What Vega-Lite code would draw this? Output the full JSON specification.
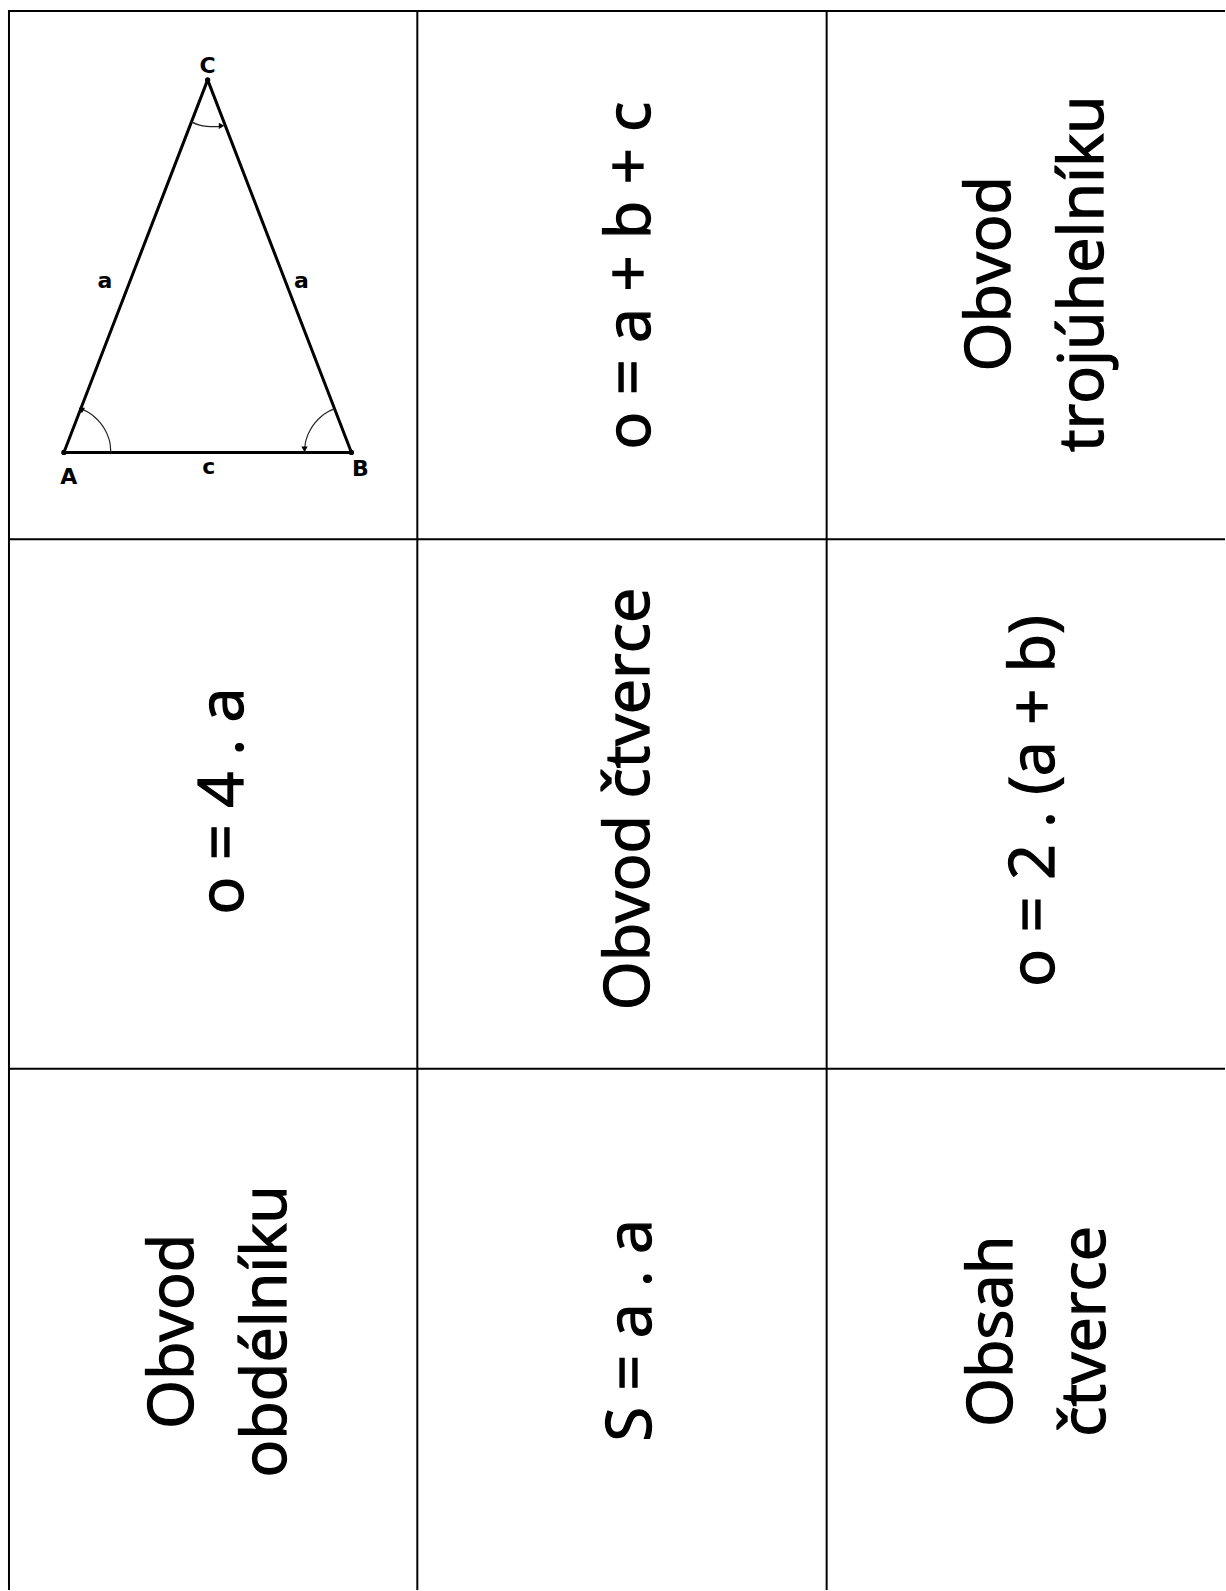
{
  "$schema": "https://vega.github.io/schema/vega-lite/v6.json",
  "width": 1226,
  "height": 1591,
  "autosize": {"type": "fit", "contains": "padding"},
  "padding": 0,
  "background": "white",
  "config": {"view": {"stroke": null}, "axis": {"disable": true}},
  "datasets": {
    "grid": [
      {"x": 9, "y": 11, "x2": 9, "y2": 1591},
      {"x": 418, "y": 11, "x2": 418, "y2": 1591},
      {"x": 828, "y": 11, "x2": 828, "y2": 1591},
      {"x": 9, "y": 11, "x2": 1226, "y2": 11},
      {"x": 9, "y": 540, "x2": 1226, "y2": 540},
      {"x": 9, "y": 1070, "x2": 1226, "y2": 1070}
    ],
    "sides": [
      {"x": 64, "y": 453, "x2": 352, "y2": 453},
      {"x": 64, "y": 453, "x2": 208, "y2": 80},
      {"x": 352, "y": 453, "x2": 208, "y2": 80}
    ],
    "arcs": [
      {"arc": "A", "i": 0, "x": 111.0, "y": 453.0},
      {"arc": "A", "i": 1, "x": 110.3, "y": 444.8},
      {"arc": "A", "i": 2, "x": 108.2, "y": 436.9},
      {"arc": "A", "i": 3, "x": 104.7, "y": 429.5},
      {"arc": "A", "i": 4, "x": 100.0, "y": 422.8},
      {"arc": "A", "i": 5, "x": 94.2, "y": 417.0},
      {"arc": "A", "i": 6, "x": 87.5, "y": 412.3},
      {"arc": "A", "i": 7, "x": 80.8, "y": 409.1},
      {"arc": "B", "i": 0, "x": 335.2, "y": 409.1},
      {"arc": "B", "i": 1, "x": 328.5, "y": 412.3},
      {"arc": "B", "i": 2, "x": 321.8, "y": 417.0},
      {"arc": "B", "i": 3, "x": 316.0, "y": 422.8},
      {"arc": "B", "i": 4, "x": 311.3, "y": 429.5},
      {"arc": "B", "i": 5, "x": 307.8, "y": 436.9},
      {"arc": "B", "i": 6, "x": 305.7, "y": 444.8},
      {"arc": "B", "i": 7, "x": 305.0, "y": 453.0},
      {"arc": "C", "i": 0, "x": 191.5, "y": 122.0},
      {"arc": "C", "i": 1, "x": 199.0, "y": 125.0},
      {"arc": "C", "i": 2, "x": 207.0, "y": 126.5},
      {"arc": "C", "i": 3, "x": 215.0, "y": 126.8},
      {"arc": "C", "i": 4, "x": 222.0, "y": 126.5}
    ],
    "arrows": [
      {"x": 82, "y": 410, "dir": 300},
      {"x": 305, "y": 449, "dir": 180},
      {"x": 221, "y": 126, "dir": 90}
    ],
    "vertices": [
      {"x": 64, "y": 453},
      {"x": 352, "y": 453},
      {"x": 208, "y": 80}
    ],
    "labels": [
      {"t": "A", "x": 69, "y": 478},
      {"t": "B", "x": 361, "y": 470},
      {"t": "C", "x": 208, "y": 66},
      {"t": "c", "x": 209, "y": 468},
      {"t": "a", "x": 105, "y": 281},
      {"t": "a", "x": 302, "y": 281}
    ],
    "cards": [
      {"txt": "o = a + b + c", "x": 651, "y": 276},
      {"txt": "Obvod\ntrojúhelníku", "x": 1012, "y": 274},
      {"txt": "o = 4 . a", "x": 243, "y": 802},
      {"txt": "Obvod čtverce", "x": 650, "y": 800},
      {"txt": "o = 2 . (a + b)", "x": 1056, "y": 802},
      {"txt": "Obvod\nobdélníku", "x": 193, "y": 1333},
      {"txt": "S = a . a", "x": 652, "y": 1332},
      {"txt": "Obsah\nčtverce", "x": 1014, "y": 1333}
    ]
  },
  "encoding": {
    "x": {"field": "x", "type": "quantitative", "scale": {"domain": [0, 1226], "nice": false, "zero": false}, "axis": null},
    "y": {"field": "y", "type": "quantitative", "scale": {"domain": [0, 1591], "nice": false, "zero": false, "reverse": true}, "axis": null}
  },
  "layer": [
    {
      "data": {"name": "grid"},
      "mark": {"type": "rule", "strokeWidth": 2, "color": "black", "strokeCap": "square"},
      "encoding": {"x2": {"field": "x2"}, "y2": {"field": "y2"}}
    },
    {
      "data": {"name": "sides"},
      "mark": {"type": "rule", "strokeWidth": 3, "color": "black", "strokeCap": "round"},
      "encoding": {"x2": {"field": "x2"}, "y2": {"field": "y2"}}
    },
    {
      "data": {"name": "arcs"},
      "mark": {"type": "line", "strokeWidth": 1.2, "color": "#222222", "interpolate": "monotone"},
      "encoding": {"detail": {"field": "arc", "type": "nominal"}, "order": {"field": "i", "type": "quantitative"}}
    },
    {
      "data": {"name": "arrows"},
      "mark": {"type": "point", "shape": "triangle", "filled": true, "size": 40, "color": "black", "opacity": 1},
      "encoding": {"angle": {"field": "dir", "type": "quantitative", "scale": null}}
    },
    {
      "data": {"name": "vertices"},
      "mark": {"type": "point", "shape": "circle", "filled": true, "size": 28, "color": "black", "opacity": 1},
      "encoding": {}
    },
    {
      "data": {"name": "labels"},
      "mark": {"type": "text", "font": "DejaVu Sans", "fontWeight": "bold", "fontSize": 22, "align": "center", "baseline": "middle", "color": "black"},
      "encoding": {"text": {"field": "t", "type": "nominal"}}
    },
    {
      "data": {"name": "cards"},
      "mark": {"type": "text", "font": "Open Sans", "fontSize": 63, "fontWeight": "normal", "angle": 270, "align": "center", "baseline": "alphabetic", "lineBreak": "\n", "lineHeight": 93, "fill": "black", "stroke": "black", "strokeWidth": 1.3},
      "encoding": {"text": {"field": "txt", "type": "nominal"}}
    }
  ]
}
